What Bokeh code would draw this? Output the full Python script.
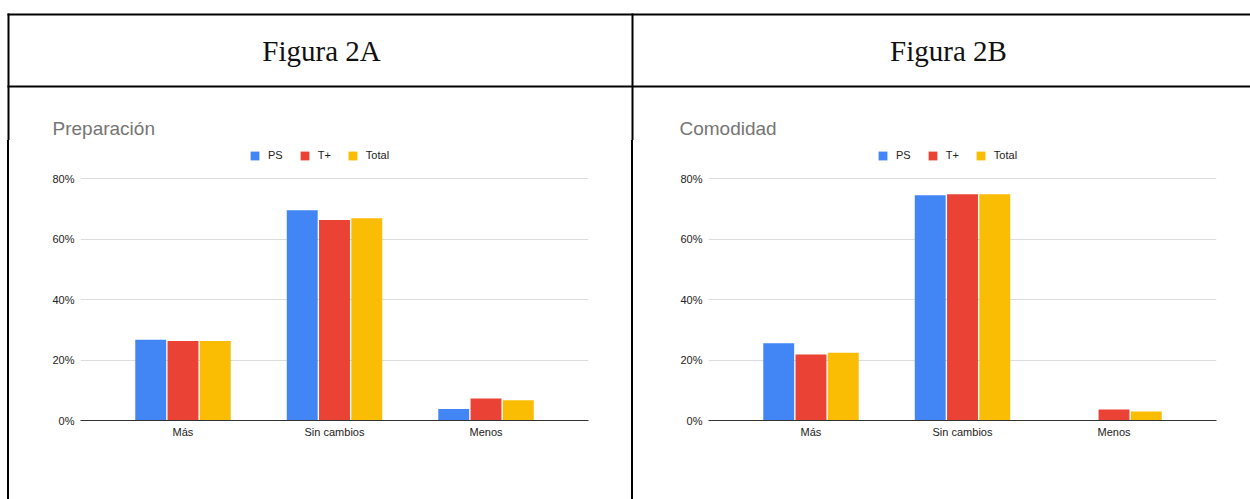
from bokeh.plotting import figure
from bokeh.layouts import row, column
from bokeh.models import (ColumnDataSource, FactorRange, Range1d, FixedTicker,
                          PrintfTickFormatter, Legend, LegendItem, Spacer, Div)
from bokeh.transform import dodge
from bokeh.core.properties import value
from bokeh.embed import file_html
from bokeh.resources import INLINE

# ---------------- data ----------------
categories = ["Más", "Sin cambios", "Menos"]
series_names = ["PS", "T+", "Total"]
series_colors = ["#4285F4", "#EA4335", "#FBBC04"]
header_labels = ["Figura 2A", "Figura 2B"]
chart_titles = ["Preparación", "Comodidad"]

prep_ps = [26.7, 69.5, 3.8]
prep_tplus = [26.3, 66.3, 7.3]
prep_total = [26.3, 66.9, 6.7]

comod_ps = [25.5, 74.5, 0.0]
comod_tplus = [21.8, 74.8, 3.6]
comod_total = [22.4, 74.8, 3.0]

y_ticks = [0, 20, 40, 60, 80]

# ---------------- layout constants ----------------
PAGE_W = 1250
HEAD_H = 140          # page y 0 .. 140
ROW_H = 359           # page y 140 .. 499
BOTTOM_B = 79
FRAME_H = ROW_H - BOTTOM_B
TOP_GAP = 38          # frame top to 80% gridline
Y_MAX = 80 * FRAME_H / (FRAME_H - TOP_GAP)

SANS = "Liberation Sans"
TXT = "#222222"


def make_chart(ps, tplus, total, width, left_b, right_b):
    p = figure(width=width, height=ROW_H,
               x_range=FactorRange(factors=categories, range_padding=0.1177,
                                   range_padding_units="percent"),
               y_range=Range1d(0, Y_MAX),
               output_backend="svg", toolbar_location=None,
               min_border_left=left_b, min_border_right=right_b,
               min_border_top=0, min_border_bottom=BOTTOM_B)
    src = ColumnDataSource(dict(cat=categories, s0=ps, s1=tplus, s2=total))
    offsets = [-0.213, 0.0, 0.213]
    items = []
    for i, (name, col) in enumerate(zip(series_names, series_colors)):
        r = p.vbar(x=dodge("cat", offsets[i], range=p.x_range), top="s%d" % i,
                   width=0.204, source=src, fill_color=col, line_color=None)
        items.append(LegendItem(label=name, renderers=[r]))
    leg = Legend(items=items, orientation="horizontal", location=(169, 259),
                 glyph_width=11, glyph_height=11, label_height=11, label_width=0,
                 label_standoff=8, spacing=16, padding=0, margin=0,
                 border_line_color=None, background_fill_alpha=0,
                 label_text_font=SANS, label_text_font_size="11px",
                 label_text_color=TXT)
    p.add_layout(leg)

    p.outline_line_color = None
    p.background_fill_color = "white"
    p.border_fill_color = "white"
    p.xgrid.grid_line_color = None
    p.ygrid.grid_line_color = "#dcdcdc"

    p.yaxis.ticker = FixedTicker(ticks=y_ticks)
    p.yaxis.formatter = PrintfTickFormatter(format="%d%%")
    p.yaxis.axis_line_color = None
    p.yaxis.major_tick_line_color = None
    p.yaxis.minor_tick_line_color = None
    p.yaxis.major_tick_out = 0
    p.yaxis.major_tick_in = 0
    p.yaxis.minor_tick_out = 0
    p.yaxis.major_label_standoff = 6
    p.yaxis.major_label_text_font = SANS
    p.yaxis.major_label_text_font_size = "11px"
    p.yaxis.major_label_text_color = TXT

    p.xaxis.axis_line_color = "#333333"
    p.xaxis.axis_line_width = 1
    p.xaxis.major_tick_line_color = None
    p.xaxis.minor_tick_line_color = None
    p.xaxis.major_tick_out = 0
    p.xaxis.major_tick_in = 0
    p.xaxis.minor_tick_out = 0
    p.xaxis.major_label_standoff = 5
    p.xaxis.major_label_text_font = SANS
    p.xaxis.major_label_text_font_size = "11px"
    p.xaxis.major_label_text_color = TXT
    return p


def vrule(h):
    # a thin black block used as a vertical table border
    return Div(text="", width=2, height=h,
               styles={"background-color": "black", "margin": "0",
                       "padding": "0", "min-width": "2px",
                       "flex-shrink": "0"})


# header strip (table borders, headers, chart titles)
hdr = figure(width=PAGE_W, height=HEAD_H, x_range=Range1d(0, PAGE_W),
             y_range=Range1d(HEAD_H, 0), output_backend="svg",
             toolbar_location=None, min_border=0, x_axis_location=None,
             y_axis_location=None, outline_line_color=None)
hdr.grid.visible = False
hdr.quad(left=[7, 7, 7, 631], right=[PAGE_W, PAGE_W, 9, 633],
         top=[13, 85, 13, 13], bottom=[15, 87, HEAD_H + 4, HEAD_H + 4],
         fill_color="black", line_color=None)
hdr.text(x=[321, 948], y=[50, 50], text=header_labels,
         text_font=value("Liberation Serif"), text_font_size="29px",
         text_color="#111111", text_align="center", text_baseline="middle")
hdr.text(x=[52, 679], y=[128, 128], text=chart_titles,
         text_font=value(SANS), text_font_size="19px",
         text_color="#757575", text_align="left", text_baseline="middle")

chart_a = make_chart(prep_ps, prep_tplus, prep_total, 622, 71, 43)
chart_b = make_chart(comod_ps, comod_tplus, comod_total, 617, 75, 34)

layout = column(hdr, row(Spacer(width=7, height=ROW_H), vrule(ROW_H),
                         chart_a, vrule(ROW_H), chart_b))

open("out.html", "w").write(file_html(layout, INLINE))
